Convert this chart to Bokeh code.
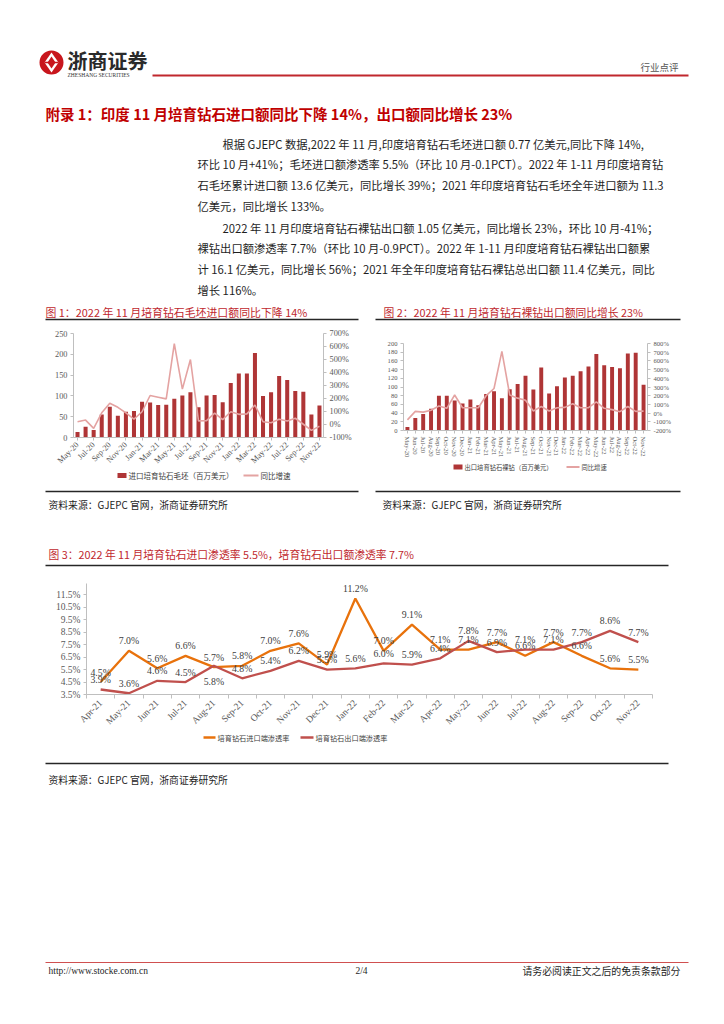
import math
from bokeh.plotting import figure
from bokeh.models import (Range1d, LinearAxis, FixedTicker, PrintfTickFormatter,
                          ColumnDataSource, LabelSet)
from bokeh.layouts import column, row
from bokeh.embed import file_html
from bokeh.resources import INLINE
from bokeh.core.properties import value

CJK = "Noto Sans CJK SC"
SERIF = "Liberation Serif"

# ---------------- data ----------------
months_31 = ["May-20", "Jun-20", "Jul-20", "Aug-20", "Sep-20", "Oct-20", "Nov-20", "Dec-20",
             "Jan-21", "Feb-21", "Mar-21", "Apr-21", "May-21", "Jun-21", "Jul-21", "Aug-21",
             "Sep-21", "Oct-21", "Nov-21", "Dec-21", "Jan-22", "Feb-22", "Mar-22", "Apr-22",
             "May-22", "Jun-22", "Jul-22", "Aug-22", "Sep-22", "Oct-22", "Nov-22"]
rough_import = [13, 26, 18, 55, 74, 52, 62, 64, 86, 84, 78, 79, 93, 101, 109, 73,
                101, 102, 85, 131, 154, 154, 203, 100, 109, 148, 138, 112, 110, 55, 77]
rough_import_yoy = [21, 34, -30, 90, 163, 132, 90, 41, 98, 223, 210, 197, 622, 272, 500, 28,
                    30, 88, 37, 98, 78, 82, 150, 21, 13, 41, 27, 48, 2, -45, -14]
polished_export = [8, 29, 38, 50, 80, 80, 69, 62, 71, 58, 84, 90, 74, 95, 107, 126,
                   94, 145, 85, 102, 122, 126, 136, 147, 176, 150, 146, 143, 177, 179, 105]
polished_export_yoy = [-78, 20, 11, 32, 82, 55, 208, 62, 62, 62, 200, 283, 710, 208, 172, 148,
                       24, 76, 24, 62, 66, 108, 62, 62, 130, 55, 40, 16, 76, 20, 23]

months_20 = ["Apr-21", "May-21", "Jun-21", "Jul-21", "Aug-21", "Sep-21", "Oct-21", "Nov-21",
             "Dec-21", "Jan-22", "Feb-22", "Mar-22", "Apr-22", "May-22", "Jun-22", "Jul-22",
             "Aug-22", "Sep-22", "Oct-22", "Nov-22"]
import_penetration = [4.5, 7.0, 5.6, 6.6, 5.7, 5.8, 7.0, 7.6, 5.9, 11.2,
                      7.0, 9.1, 7.1, 7.1, 7.7, 6.6, 7.7, 6.6, 5.6, 5.5]
export_penetration = [3.9, 3.6, 4.6, 4.5, 5.8, 4.8, 5.4, 6.2, 5.5, 5.6,
                      6.0, 5.9, 6.4, 7.8, 6.9, 7.1, 7.1, 7.7, 8.6, 7.7]

c1_left_ticks = [0, 50, 100, 150, 200, 250]
c1_right_ticks = [-100, 0, 100, 200, 300, 400, 500, 600, 700]
c2_left_ticks = [0, 20, 40, 60, 80, 100, 120, 140, 160, 180, 200]
c2_right_ticks = [-200, -100, 0, 100, 200, 300, 400, 500, 600, 700, 800]
c3_ticks = [3.5, 4.5, 5.5, 6.5, 7.5, 8.5, 9.5, 10.5, 11.5]

# ---------------- texts ----------------
brand = "浙商证券"
brand_en = "ZHESHANG SECURITIES"
section = "行业点评"
headline = "附录 1：印度 11 月培育钻石进口额同比下降 14%，出口额同比增长 23%"
para1 = ["根据 GJEPC 数据,2022 年 11 月,印度培育钻石毛坯进口额 0.77 亿美元,同比下降 14%,",
         "环比 10 月+41%；毛坯进口额渗透率 5.5%（环比 10 月-0.1PCT）。2022 年 1-11 月印度培育钻",
         "石毛坯累计进口额 13.6 亿美元，同比增长 39%；2021 年印度培育钻石毛坯全年进口额为 11.3",
         "亿美元，同比增长 133%。"]
para2 = ["2022 年 11 月印度培育钻石裸钻出口额 1.05 亿美元，同比增长 23%，环比 10 月-41%；",
         "裸钻出口额渗透率 7.7%（环比 10 月-0.9PCT）。2022 年 1-11 月印度培育钻石裸钻出口额累",
         "计 16.1 亿美元，同比增长 56%；2021 年全年印度培育钻石裸钻总出口额 11.4 亿美元，同比",
         "增长 116%。"]
fig1_title = "图 1：2022 年 11 月培育钻石毛坯进口额同比下降 14%"
fig2_title = "图 2：2022 年 11 月培育钻石裸钻出口额同比增长 23%"
fig3_title = "图 3：2022 年 11 月培育钻石进口渗透率 5.5%，培育钻石出口额渗透率 7.7%"
c1_bar_name = "进口培育钻石毛坯（百万美元）"
c2_bar_name = "出口培育钻石裸钻（百万美元）"
yoy_name = "同比增速"
imp_name = "培育钻石进口端渗透率"
exp_name = "培育钻石出口端渗透率"
source_txt = "资料来源：GJEPC 官网，浙商证券研究所"
footer_url = "http://www.stocke.com.cn"
footer_page = "2/4"
footer_note = "请务必阅读正文之后的免责条款部分"

# ---------------- styles ----------------
RED = "#C0272D"
BAR = "#AF3536"
PINK = "#E4A3A2"
ORANGE = "#E8720C"
RED2 = "#C0504D"
AXIS = "#BFBFBF"
TICKTXT = "#595959"
TEXT = "#1E1E1E"
LEGTXT = "#404040"


def canvas(x0, x1, y_top, y_bottom):
    p = figure(width=x1 - x0, height=y_bottom - y_top, x_range=Range1d(x0, x1),
               y_range=Range1d(y_bottom, y_top), x_axis_location=None, y_axis_location=None,
               min_border=0, output_backend="svg", toolbar_location=None, frame_align=False)
    p.xgrid.visible = False
    p.ygrid.visible = False
    p.outline_line_color = None
    return p


def put(p, x, y, s, size, color=TEXT, font=CJK, align="left", bold=False):
    p.text(x=[x], y=[y], text=[s], text_font=value(font), text_font_size=f"{size}px",
           text_color=color, text_align=align, text_baseline="middle",
           text_font_style="bold" if bold else "normal")


def rule(p, x0, x1, y, color="#262626", w=1.5):
    p.segment(x0=[x0], y0=[y], x1=[x1], y1=[y], line_color=color, line_width=w)


def key_box(p, x0, x1, y, h, color):
    p.quad(left=[x0], right=[x1], top=[y - h / 2], bottom=[y + h / 2], fill_color=color,
           line_color=None)


def style_axis(ax, size):
    ax.axis_line_color = AXIS
    ax.major_tick_line_color = AXIS
    ax.minor_tick_line_color = None
    ax.major_tick_out = 3
    ax.major_tick_in = 0
    ax.major_label_text_font = SERIF
    ax.major_label_text_font_size = f"{size}px"
    ax.major_label_text_color = TICKTXT
    ax.major_label_standoff = 3


def chart(width, height, xr, yr, borders):
    left, right, top, bottom = borders
    p = figure(width=width, height=height, x_range=xr, y_range=yr,
               min_border_left=left, min_border_right=right, min_border_top=top,
               min_border_bottom=bottom, output_backend="svg", toolbar_location=None,
               frame_align=False)
    p.xgrid.visible = False
    p.ygrid.visible = False
    p.outline_line_color = None
    return p

# ---------------- header (page y 0..323) ----------------
pa = canvas(0, 724, 0, 323)
pa.circle(x=[51], y=[62], radius=12, fill_color="#C8161D", line_color=None)
pa.patch(x=[51, 58, 51, 44], y=[52, 62, 72, 62], fill_color="white", line_color=None)
pa.patch(x=[51, 55, 51, 47], y=[56, 62, 68, 62], fill_color="#C8161D", line_color=None)
pa.segment(x0=[44], y0=[62], x1=[58], y1=[62], line_color="#C8161D", line_width=1.5)
put(pa, 67, 60, brand, 20, color="#2A2A2A", bold=True)
put(pa, 67, 74, brand_en, 5.5, color="#333333", font=SERIF)
rule(pa, 152, 688, 75, color=RED, w=2)
put(pa, 640, 66, section, 9.5, color="#555555")
put(pa, 45, 113, headline, 14.5, color="#C00000", bold=True)
for i, s in enumerate(para1):
    put(pa, 222 if i == 0 else 197, 143 + 20.8 * i, s, 11.3)
for i, s in enumerate(para2):
    put(pa, 222 if i == 0 else 197, 227 + 20.8 * i, s, 11.3)
put(pa, 45, 311, fig1_title, 10.9, color=RED)
put(pa, 383, 311, fig2_title, 10.8, color=RED)
rule(pa, 45, 358, 319)
rule(pa, 375, 680, 319)

# ---------------- chart 1 (page x 0..362, y 323..471) ----------------
idx = list(range(len(months_31)))
p1 = chart(362, 148, Range1d(-0.5, 30.5), Range1d(0, 250), (73, 39, 10, 34))
p1.extra_y_ranges = {"yoy": Range1d(-100, 700)}
s1 = ColumnDataSource(dict(x=idx, v=rough_import, yoy=rough_import_yoy))
p1.vbar(x="x", top="v", width=0.5, source=s1, fill_color=BAR, line_color=None)
p1.line(x="x", y="yoy", source=s1, y_range_name="yoy", line_color=PINK, line_width=1.6)
p1.xaxis.ticker = FixedTicker(ticks=idx[::2])
p1.xaxis.major_label_overrides = {i: months_31[i] for i in idx[::2]}
p1.xaxis.major_label_orientation = math.pi / 4
p1.yaxis.ticker = FixedTicker(ticks=c1_left_ticks)
p1.add_layout(LinearAxis(y_range_name="yoy", ticker=FixedTicker(ticks=c1_right_ticks),
                         formatter=PrintfTickFormatter(format="%d%%")), "right")
for ax in p1.axis:
    style_axis(ax, 8.3)

# ---------------- chart 2 (page x 362..724, y 323..460) ----------------
p2 = chart(362, 137, Range1d(-0.5, 30.5), Range1d(0, 200), (41, 77, 20, 30))
p2.extra_y_ranges = {"yoy": Range1d(-200, 800)}
s2 = ColumnDataSource(dict(x=idx, v=polished_export, yoy=polished_export_yoy))
p2.vbar(x="x", top="v", width=0.5, source=s2, fill_color=BAR, line_color=None)
p2.line(x="x", y="yoy", source=s2, y_range_name="yoy", line_color=PINK, line_width=1.6)
p2.xaxis.ticker = FixedTicker(ticks=idx)
p2.xaxis.major_label_overrides = {i: months_31[i] for i in idx}
p2.xaxis.major_label_orientation = "vertical"
p2.yaxis.ticker = FixedTicker(ticks=c2_left_ticks)
p2.add_layout(LinearAxis(y_range_name="yoy", ticker=FixedTicker(ticks=c2_right_ticks),
                         formatter=PrintfTickFormatter(format="%d%%")), "right")
for ax in p2.axis:
    style_axis(ax, 6.6)

# chart 2 key (page y 460..471)
pk = canvas(362, 724, 460, 471)
key_box(pk, 453, 462, 465.5, 5, BAR)
put(pk, 464, 465.5, c2_bar_name, 6.3, color=LEGTXT)
rule(pk, 566, 579, 465.5, color=PINK, w=2)
put(pk, 581, 465.5, yoy_name, 6.3, color=LEGTXT)

# ---------------- strip (page y 471..580) ----------------
pc = canvas(0, 724, 471, 580)
key_box(pc, 117, 126, 475, 5, BAR)
put(pc, 128, 475, c1_bar_name, 7.5, color=LEGTXT)
rule(pc, 243, 258, 475, color=PINK, w=2)
put(pc, 260, 475, yoy_name, 7.5, color=LEGTXT)
rule(pc, 45, 358, 491)
rule(pc, 375, 680, 491)
put(pc, 48, 504, source_txt, 9.8)
put(pc, 382, 504, source_txt, 9.8)
put(pc, 48, 553, fig3_title, 10.8, color=RED)
rule(pc, 45, 668, 565)

# ---------------- chart 3 (page y 580..732) ----------------
idx3 = list(range(len(months_20)))
p3 = chart(724, 152, Range1d(-0.5, 19.5), Range1d(3.5, 12.4), (86, 72, 3, 38))
s3 = ColumnDataSource(dict(x=idx3, imp=import_penetration, exp=export_penetration,
                           imp_t=[f"{v:.1f}%" for v in import_penetration]))
p3.line(x="x", y="imp", source=s3, line_color=ORANGE, line_width=2.3)
p3.line(x="x", y="exp", source=s3, line_color=RED2, line_width=2.3)
p3.xaxis.ticker = FixedTicker(ticks=idx3, minor_ticks=[i - 0.5 for i in idx3] + [idx3[-1] + 0.5])
p3.xaxis.major_label_overrides = {i: months_20[i] for i in idx3}
p3.xaxis.major_label_orientation = math.pi / 4
p3.yaxis.ticker = FixedTicker(ticks=c3_ticks)
p3.yaxis.formatter = PrintfTickFormatter(format="%.1f%%")
for ax in p3.axis:
    style_axis(ax, 9.5)
p3.xaxis.major_tick_out = 0
p3.xaxis.minor_tick_line_color = AXIS
p3.xaxis.minor_tick_out = 4
p3.xaxis.minor_tick_in = 0

below_pts = [months_20.index("Aug-21")]
above_exp = [i for i in idx3 if i not in below_pts]
s3a = ColumnDataSource(dict(x=above_exp, y=[export_penetration[i] for i in above_exp],
                            t=[f"{export_penetration[i]:.1f}%" for i in above_exp]))
s3b = ColumnDataSource(dict(x=below_pts, y=[export_penetration[i] for i in below_pts],
                            t=[f"{export_penetration[i]:.1f}%" for i in below_pts]))
lab_kw = dict(text_align="center", text_baseline="middle", text_font=value(SERIF),
              text_font_size="9.8px", text_color="#404040")
p3.add_layout(LabelSet(x="x", y="imp", text="imp_t", source=s3, y_offset=10, **lab_kw))
p3.add_layout(LabelSet(x="x", y="y", text="t", source=s3a, y_offset=10, **lab_kw))
p3.add_layout(LabelSet(x="x", y="y", text="t", source=s3b, y_offset=-16, **lab_kw))

# ---------------- footer (page y 732..1024) ----------------
pe = canvas(0, 724, 732, 1024)
rule(pe, 203, 215, 737, color=ORANGE, w=2.5)
put(pe, 217, 737, imp_name, 7.2, color=LEGTXT)
rule(pe, 300, 313, 737, color=RED2, w=2.5)
put(pe, 315, 737, exp_name, 7.2, color=LEGTXT)
rule(pe, 45, 668, 763)
put(pe, 48, 779, source_txt, 9.8)
rule(pe, 45, 688, 962, color="#D05050", w=1)
put(pe, 48, 970, footer_url, 9.5, font=SERIF)
put(pe, 361, 970, footer_page, 9.5, font=SERIF, align="center")
put(pe, 680, 970, footer_note, 9.9, align="right")

page = column(pa, row(p1, column(p2, pk)), pc, p3, pe)
open("out.html", "w").write(file_html(page, INLINE))
